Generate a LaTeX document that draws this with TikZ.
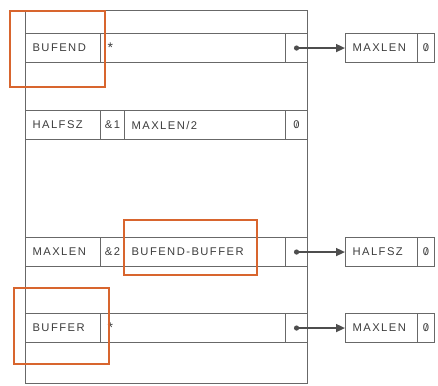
\documentclass[tikz,border=0pt]{standalone}
\usepackage{fontspec}
\setmainfont{Liberation Sans}[LetterSpace=13]
\usetikzlibrary{arrows.meta}
\definecolor{ln}{HTML}{686868}
\definecolor{tx}{HTML}{3C3C3C}
\definecolor{og}{HTML}{D8652E}
\newcommand{\szero}{{\ooalign{\hfil0\hfil\cr\hfil\raisebox{0.2pt}{\fontsize{9}{9}\selectfont/}\hfil\cr}}}
\newcommand{\bigstar}{\raisebox{-3pt}{\fontsize{14}{14}\selectfont *}}
\begin{document}
\begin{tikzpicture}[x=1pt,y=-1pt,
  base/.style={draw=ln, line width=1.1pt, inner ysep=0pt, minimum height=29pt,
     anchor=north west, text=tx, font=\fontsize{11.2}{13}\selectfont},
  lcell/.style={base, inner xsep=7pt, text width=#1-14pt, align=left},
  ccell/.style={base, inner xsep=0pt, minimum width=#1},
  hl/.style={draw=og, line width=1.1pt},
  ptr/.style={draw=ln!75!black, line width=1.6pt, -{Triangle[length=9pt,width=8pt]}},
  dot/.style={fill=ln!75!black}]
\useasboundingbox (0,0) rectangle (438,385);
% outer frame
\node[draw=ln, line width=1.1pt, inner sep=0pt, minimum width=282pt, minimum height=373pt, anchor=north west] (frame) at (25,10) {};
% row 1
\node[lcell=75pt] (n1) at (25,33) {BUFEND};
\node[lcell=185pt] (v1) at (100,33) {\bigstar};
\node[ccell=22pt] (p1) at (285,33) {};
% row 2
\node[lcell=75pt] (n2) at (25,110) {HALFSZ};
\node[ccell=24pt] (a2) at (100,110) {\&1};
\node[lcell=161pt] (v2) at (124,110) {MAXLEN/2};
\node[ccell=22pt] (z2) at (285,110) {\szero};
% row 3
\node[lcell=75pt] (n3) at (25,237) {MAXLEN};
\node[ccell=24pt] (a3) at (100,237) {\&2};
\node[lcell=161pt] (v3) at (124,237) {BUFEND-BUFFER};
\node[ccell=22pt] (p3) at (285,237) {};
% row 4
\node[lcell=75pt] (n4) at (25,313) {BUFFER};
\node[lcell=185pt] (v4) at (100,313) {\bigstar};
\node[ccell=22pt] (p4) at (285,313) {};
% target boxes
\node[lcell=72pt] (m1) at (345,33) {MAXLEN};
\node[ccell=17pt] (m1z) at (417,33) {\szero};
\node[lcell=72pt] (h3) at (345,237) {HALFSZ};
\node[ccell=17pt] (h3z) at (417,237) {\szero};
\node[lcell=72pt] (m4) at (345,313) {MAXLEN};
\node[ccell=17pt] (m4z) at (417,313) {\szero};
% pointers
\fill[dot] (p1.center) circle (2.6pt);
\fill[dot] (p3.center) circle (2.6pt);
\fill[dot] (p4.center) circle (2.6pt);
\draw[ptr] (p1.center) -- (m1.west);
\draw[ptr] (p3.center) -- (h3.west);
\draw[ptr] (p4.center) -- (m4.west);
% orange highlight boxes
\draw[hl] (10,11) rectangle (105,87);
\draw[hl] (124,220) rectangle (257,275);
\draw[hl] (14,288) rectangle (109,364);
\end{tikzpicture}
\end{document}
